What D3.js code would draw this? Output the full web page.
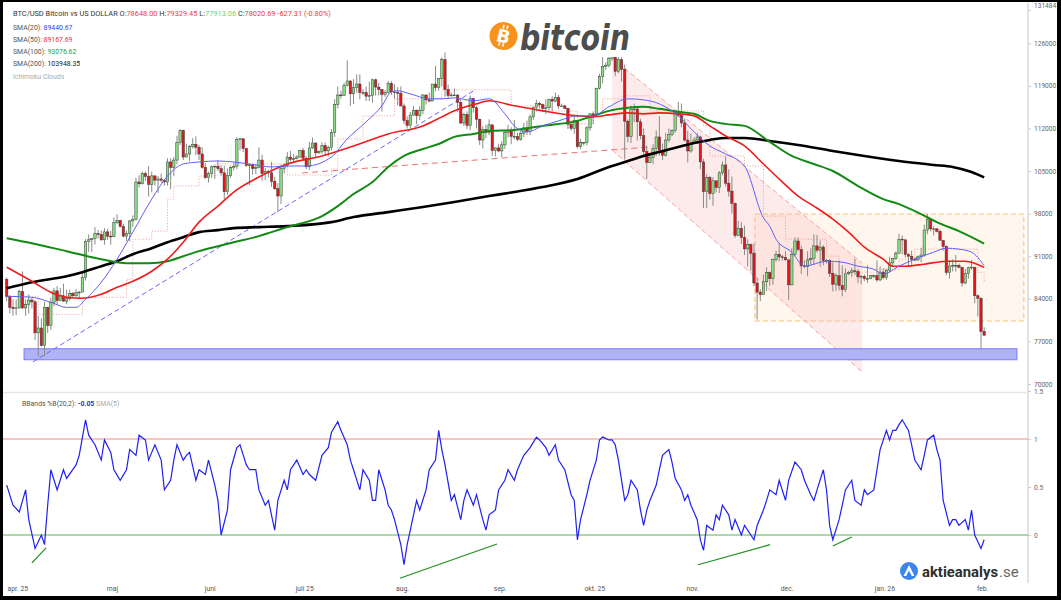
<!DOCTYPE html>
<html><head><meta charset="utf-8">
<script src="https://cdn.jsdelivr.net/npm/d3@7"></script>
<style>
html,body{margin:0;padding:0;background:#fff;}
svg{display:block;font-family:Roboto,"DejaVu Sans",sans-serif;}
</style></head><body>
<svg id="c" width="1061" height="600"></svg>
<script>
// ---------- DATA (prices in thousands USD: [open, high, low, close]) ----------
const mar25 = [[87.2,87.5,83.6,84.4],[84.4,84.6,81.6,82.6],[82.6,83.9,81.2,82.4],[82.4,83.9,81.3,82.5]];
const apr25 = [[82.5,85.5,82.4,85.2],[85.2,88.5,82.3,82.5],[82.5,83.9,81.2,83.1],[83.1,84.7,81.6,83.8],[83.8,84.2,82.4,83.5],[83.5,83.8,77.2,78.4],[78.4,81.2,74.5,79.2],[79.2,80.8,76.2,76.3],[76.3,83.5,74.6,82.6],[82.6,82.7,78.4,79.6],[79.6,84.2,78.9,83.4],[83.4,85.8,82.8,85.3],[85.3,86.1,83.0,83.7],[83.7,85.8,83.7,84.5],[84.5,86.5,83.6,83.6],[83.6,85.5,83.1,84.0],[84.0,85.5,83.7,84.9],[84.9,85.1,84.2,84.5],[84.5,85.6,84.3,85.0],[85.0,85.3,83.9,85.1],[85.1,88.4,85.1,87.5],[87.5,93.8,87.0,93.4],[93.4,94.6,91.7,93.7],[93.7,94.0,91.7,93.9],[93.9,95.8,92.9,94.7],[94.7,95.3,93.9,94.6],[94.6,95.2,93.5,93.7],[93.7,95.6,92.9,95.0],[95.0,95.5,93.7,94.3],[94.3,95.2,92.9,94.2]];
const may25 = [[94.2,97.4,94.1,96.5],[96.5,97.9,96.3,96.9],[96.9,96.9,95.7,95.9],[95.9,96.3,94.1,94.3],[94.3,95.2,93.5,94.7],[94.7,96.9,93.4,96.8],[96.8,97.7,95.8,97.0],[97.0,103.9,96.9,103.2],[103.2,104.3,102.3,102.9],[102.9,104.9,102.8,104.6],[104.6,104.9,103.4,104.1],[104.1,105.8,100.8,102.8],[102.8,104.9,101.5,104.2],[104.2,104.3,102.6,103.5],[103.5,104.2,101.4,103.7],[103.7,104.6,103.1,103.5],[103.5,103.7,102.6,103.2],[103.2,107.1,102.6,106.5],[106.5,107.1,102.0,105.6],[105.6,107.3,104.2,106.8],[106.8,110.8,106.1,109.7],[109.7,111.9,109.3,111.7],[111.7,111.8,106.8,107.3],[107.3,109.5,107.3,107.8],[107.8,109.3,106.6,109.0],[109.0,110.4,108.7,109.4],[109.4,110.7,107.6,108.9],[108.9,109.3,106.8,107.8],[107.8,108.9,105.4,105.6],[105.6,106.3,103.7,103.9],[103.9,104.9,103.1,104.6]];
const jun25 = [[104.6,105.9,103.9,105.7],[105.7,105.9,103.7,105.8],[105.8,106.8,105.0,105.4],[105.4,106.0,104.2,104.7],[104.7,105.9,100.4,101.6],[101.6,105.4,101.1,104.3],[104.3,105.9,103.9,105.6],[105.6,106.4,105.1,105.8],[105.8,110.6,105.3,110.2],[110.2,110.4,108.4,110.3],[110.3,110.4,108.1,108.7],[108.7,108.8,105.7,105.9],[105.9,106.2,102.7,106.0],[106.0,106.2,104.4,105.4],[105.4,106.1,104.5,105.6],[105.6,108.9,105.4,106.8],[106.8,107.7,103.4,104.6],[104.6,105.5,103.5,104.9],[104.9,105.2,103.9,104.7],[104.7,106.5,102.4,103.3],[103.3,104.0,101.9,102.1],[102.1,103.0,98.2,100.9],[100.9,106.0,99.6,105.4],[105.4,106.3,104.6,105.9],[105.9,108.1,105.6,107.3],[107.3,108.3,106.6,106.9],[106.9,107.8,106.4,107.1],[107.1,107.6,106.9,107.3],[107.3,108.5,107.2,108.4],[108.4,108.8,106.8,107.1]];
const jul25 = [[107.1,107.5,105.3,105.7],[105.7,109.8,105.2,108.8],[108.8,110.5,108.6,109.6],[109.6,109.7,107.3,108.0],[108.0,108.4,107.8,108.2],[108.2,109.7,107.8,109.2],[109.2,109.7,107.5,108.3],[108.3,109.2,107.4,108.9],[108.9,111.9,108.4,111.3],[111.3,116.8,110.6,115.9],[115.9,118.9,115.3,117.5],[117.5,118.2,116.9,117.4],[117.4,119.5,117.3,119.1],[119.1,123.2,118.9,119.8],[119.8,119.9,115.7,117.7],[117.7,120.1,116.0,118.7],[118.7,120.9,117.9,119.3],[119.3,120.9,116.8,117.9],[117.9,118.5,117.5,117.9],[117.9,118.9,116.5,117.3],[117.3,119.7,116.5,117.4],[117.4,120.2,116.2,120.0],[120.0,120.2,117.4,118.8],[118.8,119.5,117.4,118.4],[118.4,118.5,114.8,117.6],[117.6,118.3,117.2,117.9],[117.9,119.8,117.8,119.4],[119.4,119.8,117.5,118.0],[118.0,119.3,116.9,117.9],[117.9,118.8,115.8,117.8],[117.8,118.9,115.6,115.7]];
const aug25 = [[115.7,116.1,112.7,113.3],[113.3,114.0,112.0,112.5],[112.5,114.7,112.0,114.2],[114.2,115.7,114.1,115.0],[115.0,115.1,112.7,114.1],[114.1,115.7,113.4,115.0],[115.0,117.6,114.3,117.5],[117.5,117.6,115.9,116.7],[116.7,117.9,116.3,116.5],[116.5,119.3,116.5,119.3],[119.3,122.3,118.1,118.7],[118.7,120.3,118.2,120.2],[120.2,123.7,118.9,123.3],[123.3,124.5,117.2,118.4],[118.4,119.2,116.8,117.4],[117.4,117.9,117.2,117.5],[117.5,118.6,117.3,117.5],[117.5,117.6,114.7,116.3],[116.3,116.8,112.7,112.9],[112.9,114.6,112.4,114.3],[114.3,114.8,111.9,112.5],[112.5,117.4,111.7,116.9],[116.9,117.0,114.6,115.4],[115.4,115.7,112.0,113.5],[113.5,113.6,109.3,110.1],[110.1,112.4,108.7,111.8],[111.8,112.6,110.4,111.3],[111.3,113.5,110.9,112.6],[112.6,112.6,107.5,108.4],[108.4,108.9,107.4,108.8],[108.8,109.5,108.1,108.3]];
const sep25 = [[108.3,109.9,107.3,109.3],[109.3,111.8,108.6,111.3],[111.3,112.6,110.5,111.7],[111.7,112.2,109.4,110.7],[110.7,113.4,110.2,110.7],[110.7,111.3,109.9,110.2],[110.2,111.6,110.0,111.2],[111.2,112.9,110.6,112.1],[112.1,113.3,110.9,111.5],[111.5,114.3,110.9,113.9],[113.9,115.5,113.4,115.5],[115.5,116.7,114.8,116.1],[116.1,116.4,115.3,115.9],[115.9,116.1,114.8,115.3],[115.3,116.8,114.4,115.4],[115.4,116.9,114.9,116.8],[116.8,117.3,114.8,116.5],[116.5,117.9,116.3,117.1],[117.1,117.5,115.2,115.7],[115.7,116.1,115.5,115.7],[115.7,115.9,115.2,115.3],[115.3,115.4,111.9,112.7],[112.7,113.3,111.6,112.0],[112.0,113.9,111.1,113.3],[113.3,113.4,108.7,109.0],[109.0,110.3,108.6,109.7],[109.7,109.8,109.2,109.7],[109.7,112.4,109.2,112.1],[112.1,114.5,111.6,114.4],[114.4,114.8,112.7,114.1]];
const oct25 = [[114.1,118.7,113.9,118.6],[118.6,121.0,118.4,120.5],[120.5,123.9,119.4,122.2],[122.2,122.9,121.6,122.4],[122.4,125.5,122.0,123.5],[123.5,126.2,123.1,124.7],[124.7,125.1,120.6,121.4],[121.4,124.2,121.1,123.3],[123.3,123.7,119.7,121.7],[121.7,122.5,106.9,113.2],[113.2,113.5,109.7,110.7],[110.7,115.8,109.6,115.1],[115.1,116.1,113.0,115.2],[115.2,115.5,110.0,113.1],[113.1,113.6,110.2,110.8],[110.8,112.0,107.5,108.2],[108.2,109.2,103.7,106.4],[106.4,107.5,106.4,107.2],[107.2,109.4,106.1,108.7],[108.7,111.7,107.5,110.6],[110.6,114.0,107.5,108.4],[108.4,109.5,106.8,107.6],[107.6,111.3,107.4,110.1],[110.1,112.0,109.7,111.0],[111.0,111.9,110.7,111.7],[111.7,115.0,111.3,114.6],[114.6,116.4,113.9,114.1],[114.1,116.1,112.2,112.9],[112.9,113.6,109.8,110.1],[110.1,111.6,106.4,108.3],[108.3,111.2,108.0,109.6]];
const nov25 = [[109.6,110.6,109.4,110.1],[110.1,111.2,109.5,110.6],[110.6,110.8,105.3,106.5],[106.5,107.0,98.9,101.6],[101.6,104.5,98.9,103.9],[103.9,104.2,100.3,101.3],[101.3,104.0,99.3,103.4],[103.4,103.4,101.5,102.3],[102.3,105.0,101.4,104.7],[104.7,106.6,104.3,106.0],[106.0,107.4,102.5,103.0],[103.0,105.3,100.8,101.7],[101.7,104.1,98.0,99.7],[99.7,99.8,94.0,94.4],[94.4,96.8,94.4,95.6],[95.6,96.6,93.0,94.1],[94.1,96.0,91.2,92.2],[92.2,93.8,89.3,92.9],[92.9,93.1,88.6,91.5],[91.5,93.1,86.1,86.6],[86.6,87.5,80.6,85.1],[85.1,85.6,83.6,84.7],[84.7,88.0,84.7,86.8],[86.8,89.2,85.3,88.3],[88.3,88.5,86.1,87.3],[87.3,90.6,86.3,90.5],[90.5,91.9,90.1,91.3],[91.3,93.1,90.2,90.9],[90.9,91.2,90.3,90.8],[90.8,91.8,90.3,90.4]];
const dec25 = [[90.4,90.4,83.8,86.3],[86.3,92.3,86.2,91.3],[91.3,94.1,91.0,93.5],[93.5,94.1,91.8,92.1],[92.1,92.7,88.1,89.4],[89.4,90.3,89.0,89.3],[89.3,91.8,87.7,90.4],[90.4,92.3,89.6,90.6],[90.6,94.6,89.6,92.7],[92.7,94.5,91.6,92.0],[92.0,93.6,89.3,92.5],[92.5,92.8,89.5,90.3],[90.3,90.6,89.8,90.3],[90.3,90.5,87.6,88.2],[88.2,90.0,85.2,86.4],[86.4,88.2,85.3,87.8],[87.8,90.3,85.4,86.2],[86.2,89.5,84.4,85.5],[85.5,89.0,85.1,88.1],[88.1,88.6,87.9,88.3],[88.3,89.1,87.6,88.6],[88.6,90.6,87.9,88.5],[88.5,88.9,86.6,87.6],[87.6,87.9,86.4,87.7],[87.7,88.0,86.9,87.3],[87.3,89.5,86.6,87.3],[87.3,87.9,87.2,87.8],[87.8,88.0,87.4,87.8],[87.8,90.3,86.8,87.1],[87.1,89.3,86.9,88.4],[88.4,89.0,87.2,87.5]];
const jan26 = [[87.5,88.9,87.1,88.7],[88.7,90.9,88.4,89.9],[89.9,90.7,89.3,90.6],[90.6,91.8,90.4,91.5],[91.5,94.7,91.4,93.8],[93.8,94.4,91.3,93.7],[93.7,93.7,90.8,91.3],[91.3,91.5,89.3,91.0],[91.0,91.9,89.6,90.5],[90.5,90.8,90.2,90.4],[90.4,91.1,90.2,90.9],[90.9,92.4,90.0,91.2],[91.2,96.2,90.9,95.3],[95.3,97.9,94.6,97.0],[97.0,97.2,95.1,95.5],[95.5,95.9,94.4,95.5],[95.5,95.6,94.9,95.1],[95.1,95.4,93.6,93.6],[93.6,93.6,91.9,92.6],[92.6,92.8,87.9,88.3],[88.3,90.3,87.3,89.4],[89.4,90.5,88.5,89.5],[89.5,91.2,88.5,89.5],[89.5,89.8,89.0,89.2],[89.2,89.2,86.0,86.6],[86.6,88.9,86.4,88.2],[88.2,89.3,87.3,89.1],[89.1,90.4,88.8,89.2],[89.2,89.2,83.3,84.5],[84.5,84.7,81.1,84.1],[84.1,84.2,75.7,78.6]];
const feb26 = [[78.648,79.32945,77.91306,78.02069]];
const monthBlocks = [["2025-03-28",mar25],["2025-04-01",apr25],["2025-05-01",may25],["2025-06-01",jun25],["2025-07-01",jul25],["2025-08-01",aug25],["2025-09-01",sep25],["2025-10-01",oct25],["2025-11-01",nov25],["2025-12-01",dec25],["2026-01-01",jan26],["2026-02-01",feb26]];

// moving averages / indicator samples: [days since 2025-04-01, value]
const sma200 = [[-4,85730],[4,86720],[15,87710],[20,88370],[26,89360],[31,90180],[36,91330],[42,92320],[47,93310],[52,94130],[57,94960],[63,95290],[68,95620],[76,95780],[85,95950],[99,96600],[106,97430],[117,98250],[128,99080],[138,99900],[149,100890],[157,101550],[166,102370],[177,103690],[187,105670],[193,106650],[198,107480],[203,108140],[209,108960],[214,109620],[219,110110],[224,110440],[230,110440],[238,109950],[247,109290],[258,108300],[268,107480],[279,106650],[290,106000],[296,105670],[302,104840],[306,103950]];
const sma100 = [[-4,93970],[4,93140],[15,91830],[26,90510],[34,89850],[41,89850],[47,90180],[52,91000],[57,91830],[63,92650],[68,93310],[76,94300],[80,94960],[85,95780],[96,97590],[101,99240],[106,101220],[112,103190],[117,105670],[122,107480],[128,108630],[133,109450],[138,110610],[144,111100],[149,111600],[157,111760],[166,112420],[177,113240],[182,114070],[187,114890],[193,115390],[198,115550],[203,115220],[209,114730],[214,114400],[219,113240],[224,112750],[230,112420],[238,109780],[245,107480],[252,106160],[258,105010],[266,102540],[274,100390],[279,99570],[286,97920],[291,96600],[298,95120],[306,93080]];
const sma50 = [[-4,89190],[4,86880],[10,85070],[15,84250],[20,84080],[26,84740],[31,85900],[36,86880],[42,88530],[47,90510],[52,93310],[57,96600],[63,99240],[68,101550],[76,104020],[85,106160],[96,107480],[106,109120],[117,111100],[128,112420],[134,113900],[138,114890],[145,116040],[149,116540],[157,115720],[166,114890],[177,114070],[182,113900],[187,114230],[193,114560],[198,114400],[203,114560],[209,114400],[214,114070],[219,112420],[224,110770],[230,109120],[236,106160],[242,103190],[247,100890],[252,99240],[258,97100],[263,94960],[268,92490],[274,90510],[277,89360],[281,89360],[287,89690],[294,90180],[300,90180],[306,89170]];
const sma20 = [[-4,84410],[4,84250],[10,83420],[15,82600],[18,82600],[21,83920],[26,86720],[31,90510],[36,94960],[42,100390],[47,104180],[52,106160],[57,106490],[63,106650],[68,106490],[73,106160],[80,105670],[85,105830],[91,105830],[99,107310],[104,110280],[110,113080],[115,115720],[118,118020],[120,118190],[124,117690],[130,116870],[134,116870],[138,117030],[144,116540],[149,116870],[154,114400],[157,112420],[161,111430],[166,112420],[171,113240],[177,114070],[182,114070],[187,115550],[193,116870],[198,116700],[203,116040],[209,114070],[214,111430],[219,109120],[224,107810],[230,105830],[236,97300],[238,95950],[240,93800],[245,91660],[249,89360],[256,90180],[261,90020],[266,89360],[271,88860],[274,88040],[279,89360],[284,90510],[290,91660],[294,92320],[298,92160],[302,91660],[306,89440]];
const ichimoku = [[-4,84410],[6,81450],[20,84250],[34,87210],[36,93800],[42,95120],[47,100390],[49,102540],[57,104180],[62,106160],[85,104350],[99,105340],[101,110280],[109,114070],[119,116870],[134,118350],[156,115720],[169,114890],[177,112750],[182,114070],[185,116870],[191,117360],[200,114890],[217,112420],[219,107480],[230,105830],[236,97590],[243,93800],[256,91000],[260,88370],[271,88860],[279,90510],[284,92160],[304,88370],[306,86720]];
const pctB = [[-4,0.52],[-2,0.31],[0,0.24],[2,0.47],[3,0.16],[5,-0.14],[7,0],[8,-0.1],[9,0.31],[10,0.68],[12,0.47],[14,0.68],[15,0.59],[18,0.73],[19,0.83],[21,1.2],[22,1.04],[24,0.94],[26,0.78],[27,0.99],[29,0.86],[30,0.68],[32,0.57],[34,0.68],[35,0.89],[37,0.83],[38,1.04],[40,0.99],[41,0.78],[43,0.94],[45,0.78],[46,0.47],[48,0.57],[49,0.78],[50,0.94],[52,0.78],[53,0.83],[54,0.86],[56,0.57],[57,0.68],[59,0.63],[60,0.78],[62,0.52],[63,0.36],[64,0],[66,0.26],[67,0.68],[69,0.91],[70,0.94],[72,0.73],[73,0.68],[75,0.68],[76,0.47],[78,0.31],[79,0.36],[81,0.05],[82,0.36],[84,0.57],[85,0.47],[86,0.68],[88,0.78],[90,0.63],[91,0.68],[92,0.63],[94,0.57],[96,0.83],[98,0.91],[99,1.07],[101,1.18],[102,1.09],[104,0.94],[105,0.78],[106,0.68],[108,0.47],[109,0.68],[111,0.57],[112,0.36],[113,0.36],[114,0.68],[116,0.47],[117,0.31],[118,0.26],[119,0.16],[121,-0.1],[122,-0.31],[123,-0.1],[124,0.05],[126,0.36],[127,0.26],[129,0.47],[130,0.68],[132,0.78],[133,1.09],[134,0.89],[135,0.73],[137,0.36],[138,0.42],[140,0.16],[141,0.36],[142,0.47],[144,0.31],[145,0.42],[147,0.16],[148,0.05],[149,0.21],[151,0.26],[152,0.47],[154,0.57],[155,0.68],[157,0.57],[158,0.68],[160,0.83],[162,0.91],[164,1.02],[165,0.99],[167,0.91],[168,0.83],[170,0.94],[171,0.78],[173,0.68],[175,0.42],[176,0.36],[177,-0.05],[178,0.16],[180,0.42],[181,0.57],[183,0.78],[184,0.99],[185,1.02],[187,0.99],[188,0.99],[189,0.94],[190,0.78],[192,0.36],[193,0.42],[194,0.57],[196,0.47],[197,0.26],[198,0.1],[199,0.26],[200,0.36],[202,0.52],[203,0.68],[204,0.83],[206,0.89],[207,0.76],[208,0.59],[210,0.47],[211,0.36],[212,0.42],[213,0.31],[215,0.16],[216,-0.05],[217,-0.16],[218,0.1],[220,0.05],[221,0.21],[222,0.16],[223,0.31],[225,0.21],[226,0.05],[227,0.16],[229,0],[230,0.1],[232,0],[233,-0.05],[234,0.1],[236,0.26],[237,0.36],[238,0.47],[240,0.42],[241,0.57],[243,0.36],[244,0.57],[246,0.76],[248,0.68],[249,0.57],[251,0.42],[252,0.36],[253,0.47],[255,0.68],[256,0.47],[257,0.1],[258,-0.05],[260,0.16],[261,0.31],[262,0.47],[264,0.57],[265,0.36],[267,0.31],[268,0.47],[269,0.42],[271,0.47],[272,0.68],[273,0.89],[275,1.09],[276,0.99],[277,1.09],[278,1.09],[279,1.15],[280,1.2],[282,1.09],[283,0.94],[284,0.78],[286,0.68],[287,0.83],[288,0.99],[290,1.04],[291,0.89],[292,0.78],[293,0.36],[295,0.1],[296,0.16],[297,0.16],[298,0.1],[300,0.16],[301,0.05],[302,0.26],[303,0],[305,-0.14],[306,-0.05]];

// annotations: [day, value]
const supportBand = {from:1.5, to:316.4, low:73980, high:75790};
const blueTrend = [[4.3,73620],[144.5,118320]];
const redTrend = [[89.7,104680],[200,108950]];
const channelTop = [[188,123580],[267.3,89890]];
const channelBottom = [[188,108460],[267.3,71970]];
const rangeBox = {from:233.3, to:318.6, low:80340, high:97930};
const pctBTrends = [[[4,-0.29],[8.5,-0.135]],[[120.7,-0.45],[151.5,-0.094]],[[215.3,-0.31],[238.1,-0.1]],[[258,-0.115],[264,-0.02]]];

const priceTicks = [70000,77000,84000,91000,98000,105000,112000,119000,126000,131484];
const pctTicks = [0,0.5,1,1.5];
const monthTicks = ["2025-04-01","2025-05-01","2025-06-01","2025-07-01","2025-08-01","2025-09-01","2025-10-01","2025-11-01","2025-12-01","2026-01-01","2026-02-01"];
const monthLabels = ["apr. 25","maj","juni","juli 25","aug.","sep.","okt. 25","nov.","dec.","jan. 26","feb."];

// ---------- SETUP ----------
const DAY = 864e5;
const P = d3.utcParse("%Y-%m-%d");
const base = P("2025-04-01");
const dd = d => new Date(+base + d*DAY);
const candles = [];
monthBlocks.forEach(([s,rows]) => { const t0 = P(s); rows.forEach((r,i)=>candles.push({date:new Date(+t0+i*DAY),o:r[0]*1000,h:r[1]*1000,l:r[2]*1000,c:r[3]*1000})); });

const svg = d3.select("#c");
svg.append("rect").attr("width",1061).attr("height",600).attr("fill","#fff");

const x = d3.scaleUtc().domain([P("2025-03-27"),P("2026-02-15")]).range([3.54,1028.3]);
const y = d3.scaleLinear().domain([68600,131484]).range([392.5,9.9]);
const yb = d3.scaleLinear().domain([-0.5,1.5]).range([583,391]);

const defs = svg.append("defs");
defs.append("clipPath").attr("id","cp1").append("rect").attr("x",3).attr("y",3).attr("width",1025).attr("height",389.5);
defs.append("clipPath").attr("id","cp2").append("rect").attr("x",3).attr("y",393).attr("width",1025).attr("height",190);

const g1 = svg.append("g").attr("clip-path","url(#cp1)");

// range box
g1.append("rect").attr("x",x(dd(rangeBox.from))).attr("y",y(rangeBox.high))
  .attr("width",x(dd(rangeBox.to))-x(dd(rangeBox.from))).attr("height",y(rangeBox.low)-y(rangeBox.high))
  .attr("fill","rgba(255,205,140,0.16)").attr("stroke","#f9c16f").attr("stroke-width",1.1).attr("stroke-dasharray","5,3");
// descending channel
const chPts = [channelTop[0],channelTop[1],channelBottom[1],channelBottom[0]].map(p=>[x(dd(p[0])),y(p[1])]);
g1.append("path").attr("d",d3.line()(chPts)+"Z").attr("fill","rgba(250,190,190,0.32)");
[channelTop,channelBottom].forEach(l=>g1.append("path").attr("d",d3.line()(l.map(p=>[x(dd(p[0])),y(p[1])])))
  .attr("fill","none").attr("stroke","#f5a3a3").attr("stroke-width",1).attr("stroke-dasharray","5,3"));
// support band
g1.append("rect").attr("x",x(dd(supportBand.from))).attr("y",y(supportBand.high))
  .attr("width",x(dd(supportBand.to))-x(dd(supportBand.from))).attr("height",y(supportBand.low)-y(supportBand.high))
  .attr("fill","#b1b3f7").attr("stroke","#7a7cf2").attr("stroke-width",1);
// trend lines
g1.append("path").attr("d",d3.line()(blueTrend.map(p=>[x(dd(p[0])),y(p[1])]))).attr("fill","none")
  .attr("stroke","#6666ff").attr("stroke-width",1).attr("stroke-dasharray","5,3");
g1.append("path").attr("d",d3.line()(redTrend.map(p=>[x(dd(p[0])),y(p[1])]))).attr("fill","none")
  .attr("stroke","#f07070").attr("stroke-width",1).attr("stroke-dasharray","6,4");
// ichimoku line
g1.append("path").attr("d",d3.line().curve(d3.curveStepAfter).x(p=>x(dd(p[0]))).y(p=>y(p[1]))(ichimoku))
  .attr("fill","none").attr("stroke","#f4a0a0").attr("stroke-width",0.9).attr("stroke-dasharray","1.2,1.6");

// candles
const cw = 2.4;
const cg = g1.append("g");
cg.selectAll("line").data(candles).join("line")
  .attr("x1",d=>x(d.date)).attr("x2",d=>x(d.date)).attr("y1",d=>y(d.h)).attr("y2",d=>y(d.l))
  .attr("stroke","#8a8a8a").attr("stroke-width",1);
cg.selectAll("rect").data(candles).join("rect")
  .attr("x",d=>x(d.date)-cw/2).attr("width",cw)
  .attr("y",d=>y(Math.max(d.o,d.c))).attr("height",d=>Math.max(0.8,Math.abs(y(d.o)-y(d.c))))
  .attr("fill",d=>d.c>=d.o?"#86e07f":"#e5141b").attr("stroke","#3a3a3a").attr("stroke-width",0.5);

// moving averages
const maLine = d3.line().curve(d3.curveMonotoneX).x(p=>x(dd(p[0]))).y(p=>y(p[1]));
[[sma200,"#000",2.6],[sma100,"#138a13",2],[sma50,"#ee1c1c",1.6],[sma20,"#6060f5",1]].forEach(([s,c,w])=>
  g1.append("path").attr("d",maLine(s)).attr("fill","none").attr("stroke",c).attr("stroke-width",w));

// bitcoin logo
const logo = svg.append("g");
logo.append("rect").attr("x",486).attr("y",17).attr("width",148).attr("height",40).attr("fill","#fff");
const coin = logo.append("g").attr("transform","translate(503.5,36) rotate(14)");
coin.append("circle").attr("r",14).attr("fill","#f7931a");
coin.append("text").attr("text-anchor","middle").attr("y",6.5).attr("font-size",18).attr("font-weight","bold")
  .attr("font-family","DejaVu Sans").attr("fill","#fff").text("B");
[[-2.2,-11,-7.5],[1.8,-11,-7.5],[-2.2,7,10.5],[1.8,7,10.5]].forEach(([lx,a,b])=>coin.append("line")
  .attr("x1",lx).attr("x2",lx).attr("y1",a).attr("y2",b).attr("stroke","#fff").attr("stroke-width",1.7));
logo.append("text").attr("x",520).attr("y",50).attr("font-size",35).attr("font-weight","bold").attr("font-style","italic")
  .attr("font-family","DejaVu Sans").attr("fill","#4d4d4d").attr("textLength",110).attr("lengthAdjust","spacingAndGlyphs").text("bitcoin");

// header legend
const hdr = svg.append("text").attr("x",13).attr("y",16).attr("font-size",7.4).attr("fill","#333");
[["BTC/USD Bitcoin vs US DOLLAR ","#333"],["O:","#333"],["78648.00 ","#f23b3b"],["H:","#333"],["79329.45 ","#f23b3b"],["L:","#333"],["77913.06 ","#6fd36f"],["C:","#333"],["78020.69 -627.31 (-0.80%)","#f23b3b"]]
  .forEach(([t,c])=>hdr.append("tspan").attr("fill",c).text(t));
const leg = [["SMA(20): ","89440.67","#3a3af5"],["SMA(50): ","89167.69","#f03030"],["SMA(100): ","93076.62","#1f9a1f"],["SMA(200): ","103948.35","#222"]];
leg.forEach(([a,b,c],i)=>{ const t=svg.append("text").attr("x",13).attr("y",29.5+i*12.2).attr("font-size",6.9).attr("fill","#555");
  t.append("tspan").text(a); t.append("tspan").attr("fill",c).text(b); });
svg.append("text").attr("x",13).attr("y",78.5).attr("font-size",6.9).attr("fill","#aaa").text("Ichimoku Clouds");

// price axis
svg.append("line").attr("x1",1028).attr("x2",1028).attr("y1",3).attr("y2",583).attr("stroke","#e3e3e3").attr("stroke-width",2);
const ax1 = svg.append("g").attr("transform","translate(1028,0)").call(d3.axisRight(y).tickValues(priceTicks).tickSize(3).tickPadding(3).tickFormat(d3.format("d")));
ax1.select(".domain").remove();
ax1.selectAll("line").attr("stroke","#ccc");
ax1.selectAll("text").attr("font-size",6.6).attr("fill","#666").attr("font-family","Roboto");
ax1.selectAll(".tick").filter(d=>d===131484).select("text").attr("dy","-0.3em");

// separator
svg.append("line").attr("x1",3).attr("x2",1028).attr("y1",392.5).attr("y2",392.5).attr("stroke","#e6e6e6").attr("stroke-width",1.5);

// lower panel
const g2 = svg.append("g").attr("clip-path","url(#cp2)");
g2.append("line").attr("x1",3).attr("x2",1028).attr("y1",yb(1)).attr("y2",yb(1)).attr("stroke","#f08a8a").attr("stroke-width",1);
g2.append("line").attr("x1",3).attr("x2",1028).attr("y1",yb(0)).attr("y2",yb(0)).attr("stroke","#5cae5c").attr("stroke-width",1);
g2.append("path").attr("d",d3.line().x(p=>x(dd(p[0]))).y(p=>yb(p[1]))(pctB)).attr("fill","none").attr("stroke","#2020f0").attr("stroke-width",1.2);
pctBTrends.forEach(l=>g2.append("path").attr("d",d3.line().x(p=>x(dd(p[0]))).y(p=>yb(p[1]))(l)).attr("fill","none").attr("stroke","#1f8f1f").attr("stroke-width",1.2));
const ax2 = svg.append("g").attr("transform","translate(1028,0)").call(d3.axisRight(yb).tickValues(pctTicks).tickSize(3).tickPadding(3).tickFormat(d=>d));
ax2.select(".domain").remove();
ax2.selectAll("line").attr("stroke","#ccc");
ax2.selectAll("text").attr("font-size",6.6).attr("fill","#666").attr("font-family","Roboto");
const bl = svg.append("text").attr("x",22).attr("y",405.5).attr("font-size",6.9).attr("fill","#555");
bl.append("tspan").text("BBands %B(20,2): ");
bl.append("tspan").attr("fill","#2f2ff5").attr("font-weight","bold").text("-0.05");
bl.append("tspan").attr("fill","#aaa").text("  SMA(5)");

// time axis
const ax3 = svg.append("g").attr("transform","translate(-2,583)").call(d3.axisBottom(x).tickValues(monthTicks.map(P)).tickSize(0).tickPadding(3).tickFormat((d,i)=>monthLabels[i]));
ax3.select(".domain").remove();
ax3.selectAll("text").attr("font-size",6.8).attr("fill","#555").attr("font-family","Roboto");

// aktieanalys logo
const al = svg.append("g");
al.append("circle").attr("cx",909).attr("cy",571).attr("r",9).attr("fill","#3a86ea");
al.append("path").attr("d","M903.5,576 L909,565 L914.5,576 L911.8,576 L909,570.5 L906.2,576 Z").attr("fill","#fff");
al.append("text").attr("x",922).attr("y",577).attr("font-size",15).attr("font-weight","bold").attr("fill","#2e2e2e")
  .attr("textLength",76).attr("lengthAdjust","spacingAndGlyphs").text("aktieanalys");
al.append("text").attr("x",999).attr("y",577).attr("font-size",15).attr("fill","#666").text(".se");

// frame
[[0,0,1061,2],[0,0,3,600],[1057,0,4,600],[0,596,1061,4]].forEach(r=>svg.append("rect").attr("x",r[0]).attr("y",r[1]).attr("width",r[2]).attr("height",r[3]).attr("fill","#000"));
</script></body></html>
